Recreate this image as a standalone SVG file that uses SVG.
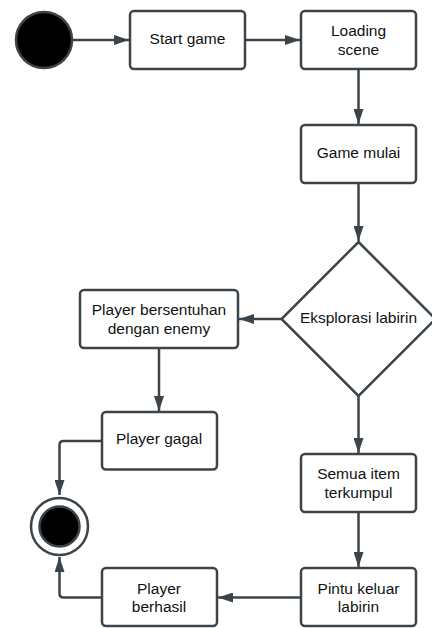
<svg xmlns="http://www.w3.org/2000/svg" width="432" height="628" viewBox="0 0 432 628">
<style>
.box{fill:#fff;stroke:#3c4449;stroke-width:2.5}
.edge{fill:none;stroke:#3c4449;stroke-width:2.5}
text{font-family:"Liberation Sans",Arial,sans-serif;font-size:15.5px;fill:#111;text-anchor:middle}
</style>
<defs>
<marker id="arr" viewBox="0 0 15 10" refX="15" refY="5" markerWidth="15" markerHeight="10" markerUnits="userSpaceOnUse" orient="auto">
<path d="M0,0 L15,5 L0,10 Z" fill="#3c4449"/>
</marker>
</defs>
<rect width="432" height="628" fill="#fff"/>
<g id="connectors">
<path class="edge" marker-end="url(#arr)" d="M72,40 H129"/>
<path class="edge" marker-end="url(#arr)" d="M245,40 H300"/>
<path class="edge" marker-end="url(#arr)" d="M358.5,69 V124"/>
<path class="edge" marker-end="url(#arr)" d="M358.5,183 V241"/>
<path class="edge" marker-end="url(#arr)" d="M281,319 H239"/>
<path class="edge" marker-end="url(#arr)" d="M159,348 V411"/>
<path class="edge" marker-end="url(#arr)" d="M102,441 H63.5 Q59.5,441 59.5,445 V495"/>
<path class="edge" marker-end="url(#arr)" d="M358.5,396 V453"/>
<path class="edge" marker-end="url(#arr)" d="M358.5,512 V567"/>
<path class="edge" marker-end="url(#arr)" d="M301,597.5 H218"/>
<path class="edge" marker-end="url(#arr)" d="M102,597.5 H63.5 Q59.5,597.5 59.5,593.5 V557"/>
</g>
<g id="start">
<circle cx="44" cy="40" r="28" fill="#000" stroke="#3c4449" stroke-width="2.5"/>
</g>
<g id="start-game">
<rect class="box" x="130" y="11" width="115" height="58" rx="4"/>
<text x="187.5" y="43.5">Start game</text>
</g>
<g id="loading-scene">
<rect class="box" x="301" y="11" width="115" height="58" rx="4"/>
<text x="358.5" y="35.5">Loading</text>
<text x="358.5" y="54.5">scene</text>
</g>
<g id="game-mulai">
<rect class="box" x="301" y="125" width="115" height="58" rx="4"/>
<text x="358.5" y="158">Game mulai</text>
</g>
<g id="eksplorasi">
<path class="box" d="M358.5,242 L435.5,319 L358.5,396 L281.5,319 Z"/>
<text x="358.5" y="322.5">Eksplorasi labirin</text>
</g>
<g id="player-bersentuhan">
<rect class="box" x="80" y="290" width="158" height="58" rx="4"/>
<text x="159" y="315">Player bersentuhan</text>
<text x="159" y="333.5">dengan enemy</text>
</g>
<g id="player-gagal">
<rect class="box" x="102" y="412" width="115" height="57.5" rx="4"/>
<text x="159" y="443.5">Player gagal</text>
</g>
<g id="semua-item">
<rect class="box" x="301" y="454" width="115" height="58" rx="4"/>
<text x="358.5" y="479">Semua item</text>
<text x="358.5" y="497.5">terkumpul</text>
</g>
<g id="pintu-keluar">
<rect class="box" x="301" y="568" width="115" height="58" rx="4"/>
<text x="358.5" y="593.5">Pintu keluar</text>
<text x="358.5" y="612">labirin</text>
</g>
<g id="player-berhasil">
<rect class="box" x="102" y="568" width="115" height="58" rx="4"/>
<text x="159" y="593.5">Player</text>
<text x="159" y="612">berhasil</text>
</g>
<g id="end">
<circle cx="59.5" cy="526.5" r="28.5" fill="#fff" stroke="#3c4449" stroke-width="2.5"/>
<circle cx="59.5" cy="526.5" r="20" fill="#000" stroke="#3c4449" stroke-width="2.5"/>
</g>
</svg>
